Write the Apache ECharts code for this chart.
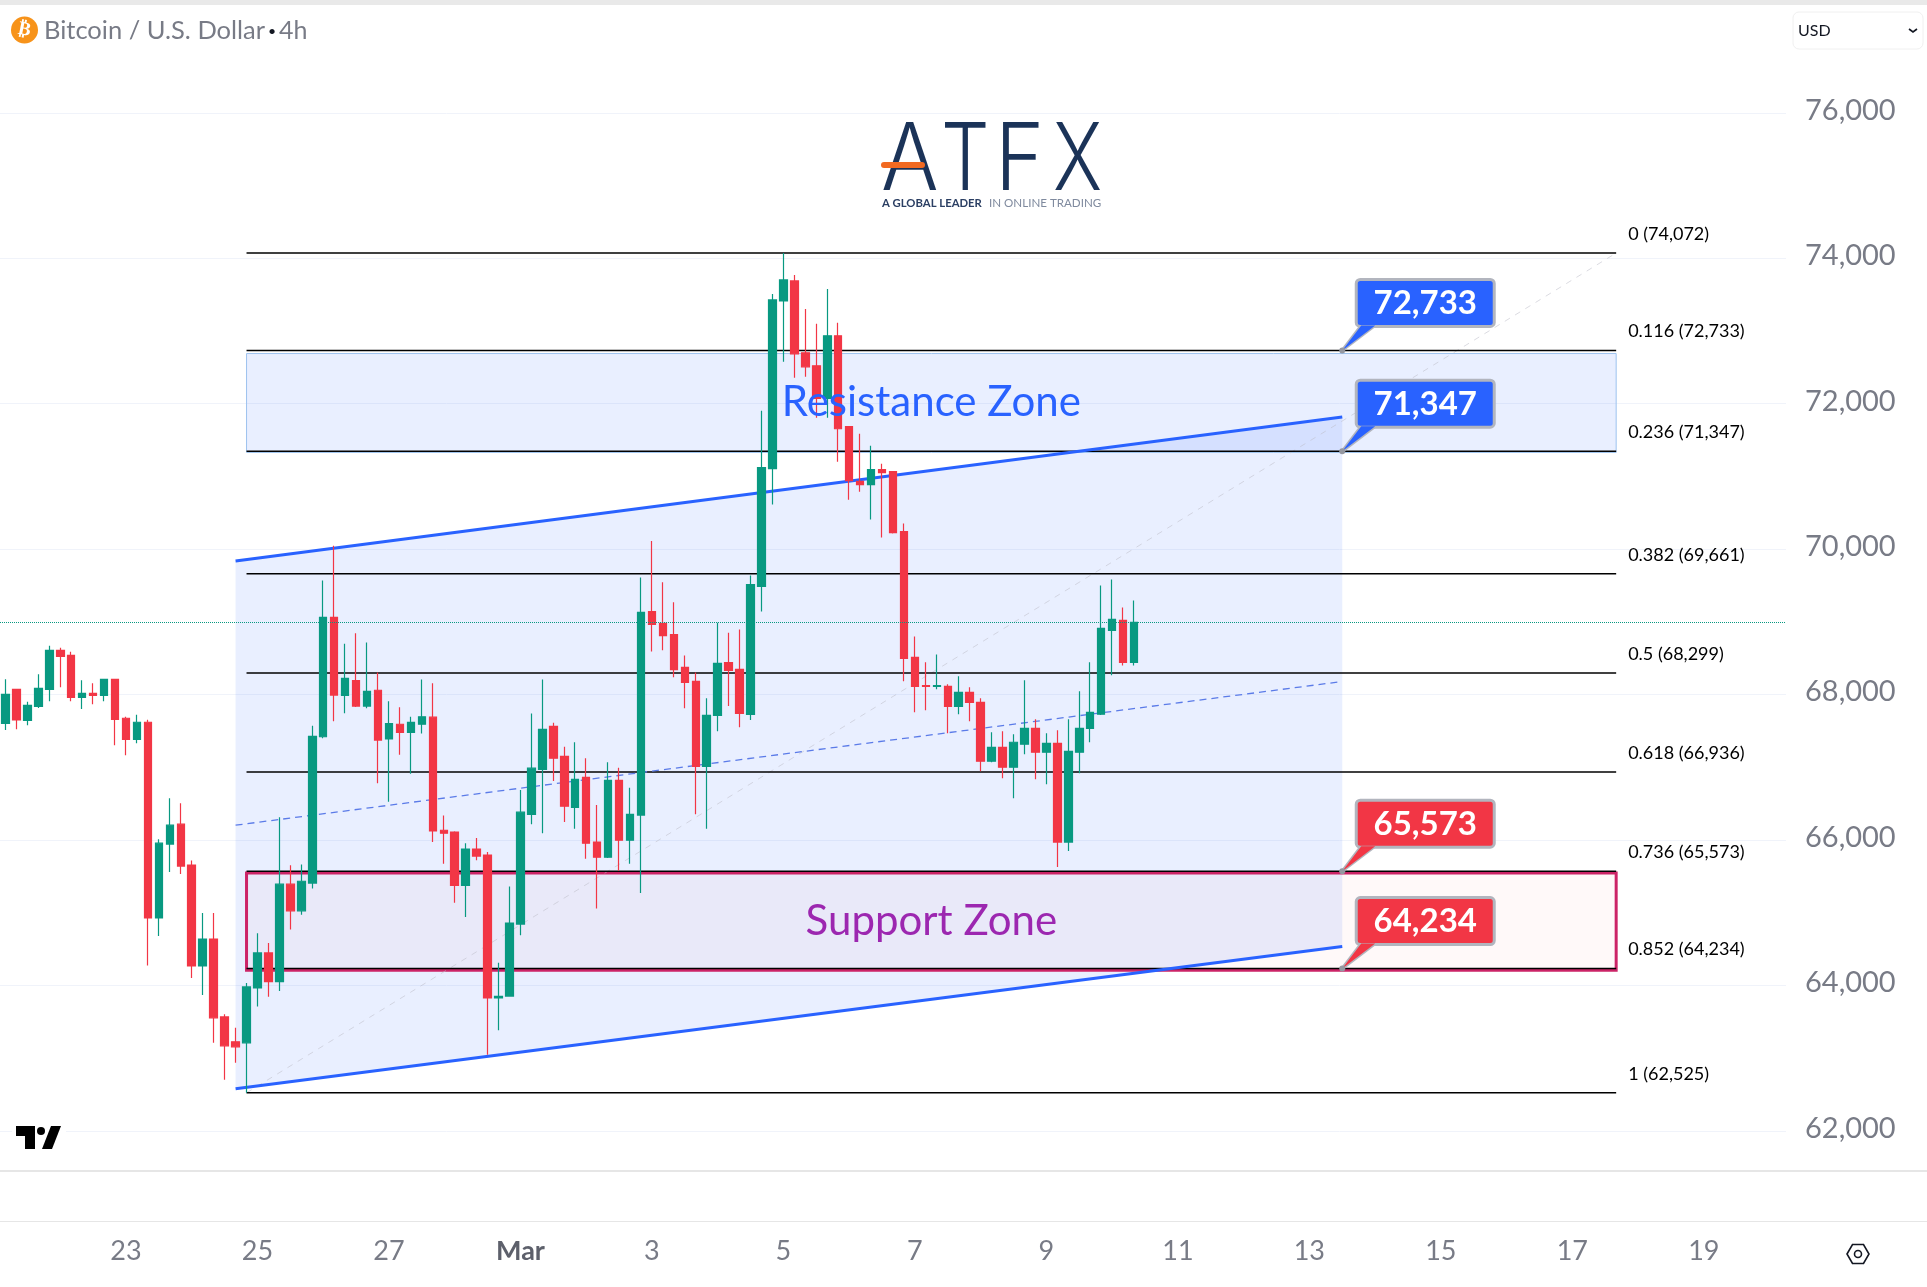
<!DOCTYPE html>
<html>
<head>
<meta charset="utf-8">
<title>Bitcoin / U.S. Dollar 4h</title>
<script src="https://cdn.jsdelivr.net/npm/echarts@6/dist/echarts.min.js"></script>
<style>
html, body { margin: 0; padding: 0; background: #fff; }
#chart { width: 1927px; height: 1287px; }
</style>
</head>
<body>
<div id="chart"></div>
<script>
// 4h candles
var opens = [67606,68073,67647,67839,68073,68608,68540,67963,68018,67990,68210,67675,67386,67620,64929,65945,66219,65656,64270,64640,63569,63226,63212,63966,64449,64053,65394,65028,65409,67421,69061,67989,68192,67842,68060,67390,67593,67481,67593,67690,66135,66110,65378,65876,65795,63829,63855,64845,66354,66973,67563,67151,66450,66862,65973,65765,66821,65998,66344,69142,68980,68827,68375,68182,67014,67715,68439,68347,67729,69487,71107,73414,73688,72700,72521,72073,72933,71684,70933,70887,71093,71066,70242,68512,68123,68114,68114,67839,68032,67894,67084,67276,67002,67318,67537,67208,67331,65972,67208,67537,67730,68883,69020,68444];
var closes = [68004,67652,67853,68087,68608,68526,67963,68018,67990,68210,67661,67386,67620,64929,65958,66205,65642,64270,64640,63556,63171,63157,63981,64449,64053,65394,65028,65434,67426,69061,67994,68223,67842,68045,67375,67603,67481,67619,67695,66125,66095,65378,65876,65780,63829,63850,64860,66384,66989,67522,67126,66465,66836,65957,65765,66821,65998,66354,69132,68965,68812,68345,68167,67014,67715,68431,68333,67743,69514,71121,73427,73702,72686,72507,72073,72933,71656,70942,70887,71093,71052,70228,68498,68114,68114,68123,67839,68032,67894,67084,67276,67002,67345,67537,67208,67331,65972,67221,67537,67757,68910,69034,68444,68993];
var lows = [67514,67524,67578,67816,67908,68100,67908,67803,67867,67908,67304,67167,67331,64274,64681,65560,65533,64105,63871,63212,62704,62938,62525,63712,63845,63926,64769,64972,65333,67400,67634,67745,67830,67811,66780,66526,67172,66913,67466,65973,65673,65140,64942,65724,63047,63387,63845,64693,66217,66095,66811,66247,66156,65744,65059,65754,65577,65673,65272,68594,68609,68238,67811,66354,66156,67497,67844,67550,67650,69144,70613,72576,72356,72370,71807,71807,71203,70681,70791,70407,70160,70214,68183,67757,67785,68073,67469,67730,67633,66947,67070,66851,66576,67180,66837,66768,65629,65849,66919,67345,67720,68265,68402,68402];
var highs = [68210,68073,67903,68279,68672,68645,68590,68196,68155,68219,68219,67697,67725,67656,66013,66576,66507,65720,64997,64997,63606,63418,64036,64718,64586,66313,65653,65663,67573,69569,70047,68700,68843,68716,68304,67908,67827,67695,68208,68157,66339,66120,65957,66029,65836,64312,65363,66689,67741,68208,67613,67283,67344,67126,66481,67070,66994,66719,69610,70113,69544,69270,68538,68304,67949,68990,68851,68896,69638,71903,73510,74072,73771,73304,73098,73578,73112,71684,71587,71423,71175,71066,70352,68800,68444,68553,68141,68251,68100,67949,67482,67495,67455,68196,67661,67469,67510,67661,68045,68444,69501,69583,69199,69295];

var lastPrice = 68993;
var tickLabels = ['23','25','27','Mar','3','5','7','9','11','13','15','17','19'];
var firstTickIndex = 11;
var ticksEvery = 12;
var barSlots = 163;

// fib tool
var fibRatios = ['0','0.116','0.236','0.382','0.5','0.618','0.736','0.852','1'];
var fibLevels = [74072,72733,71347,69661,68299,66936,65573,64234,62525];
var fibStart = 22;
var fibEnd = 147;

// parallel channel, bar index -> price
var channelStart = 21;
var channelEnd = 122;
var channelUpper = [69836,71817];
var channelMiddle = [66205,68180];
var channelLower = [62581,64536];

var resistanceZone = [71330,72690];
var supportZone = [64209,65548];

var callouts = [
    {value: 72733, color: '#2962ff'},
    {value: 71347, color: '#2962ff'},
    {value: 65573, color: '#f23645'},
    {value: 64234, color: '#f23645'}
];

var FONT = 'Lato, "Open Sans", sans-serif';
var axisGray = '#787b86';
var logoNavy = '#1b3358';

var categories = [];
for (var i = 0; i < barSlots; i++) {
    categories.push(new Date(Date.UTC(2026, 1, 21, 4 + i * 4)).toISOString().slice(0, 16));
}

var candleData = opens.map(function (o, i) {
    return [o, closes[i], lows[i], highs[i]];
});

function fmt(v) {
    return String(v).replace(/\B(?=(\d{3})+$)/g, ',');
}

function segment(api, i0, v0, i1, v1, style) {
    var a = api.coord([i0, v0]);
    var b = api.coord([i1, v1]);
    return {type: 'line', shape: {x1: a[0], y1: a[1], x2: b[0], y2: b[1]}, style: style};
}

function zoneRect(api, zone, style) {
    var a = api.coord([fibStart, zone[1]]);
    var b = api.coord([fibEnd, zone[0]]);
    return {type: 'rect', shape: {x: a[0], y: a[1], width: b[0] - a[0], height: b[1] - a[1]}, style: style};
}

// everything that sits under the candles
function renderUnder(params, api) {
    var kids = [];
    var p0 = api.coord([channelStart, channelUpper[0]]);
    var p1 = api.coord([channelEnd, channelUpper[1]]);
    var p2 = api.coord([channelEnd, channelLower[1]]);
    var p3 = api.coord([channelStart, channelLower[0]]);
    kids.push({type: 'polygon', shape: {points: [p0, p1, p2, p3]}, style: {fill: 'rgba(41,98,255,0.1)'}});
    kids.push(zoneRect(api, resistanceZone, {fill: 'rgba(41,98,255,0.1)', stroke: '#9dc3ef', lineWidth: 1}));
    kids.push(zoneRect(api, supportZone, {fill: 'rgba(242,54,69,0.03)', stroke: '#cc2467', lineWidth: 3}));
    kids.push(segment(api, fibStart, fibLevels[8], fibEnd, fibLevels[0], {stroke: 'rgba(190,190,200,0.55)', lineWidth: 1, lineDash: [6, 6]}));
    fibLevels.forEach(function (level) {
        kids.push(segment(api, fibStart, level, fibEnd, level, {stroke: '#000', lineWidth: 1.5}));
    });
    kids.push(segment(api, channelStart, channelMiddle[0], channelEnd, channelMiddle[1], {stroke: '#5b7be8', lineWidth: 1.3, lineDash: [7, 5]}));
    kids.push(segment(api, channelStart, channelUpper[0], channelEnd, channelUpper[1], {stroke: '#2962ff', lineWidth: 3}));
    kids.push(segment(api, channelStart, channelLower[0], channelEnd, channelLower[1], {stroke: '#2962ff', lineWidth: 3}));
    return {type: 'group', children: kids};
}

function zoneText(api, text, zone, color) {
    var a = api.coord([fibStart, (zone[0] + zone[1]) / 2]);
    var b = api.coord([fibEnd, (zone[0] + zone[1]) / 2]);
    return {type: 'text', style: {text: text, x: (a[0] + b[0]) / 2, y: a[1] + 2, fill: color, font: '42px ' + FONT, align: 'center', verticalAlign: 'middle'}};
}

// labels and callouts, on top of the candles
function renderOver(params, api) {
    var kids = [];
    fibLevels.forEach(function (level, k) {
        var p = api.coord([fibEnd, level]);
        kids.push({type: 'text', style: {text: fibRatios[k] + ' (' + fmt(level) + ')', x: p[0] + 12, y: p[1] - 19, fill: '#000', font: '18px ' + FONT, align: 'left', verticalAlign: 'middle'}});
    });
    kids.push(zoneText(api, 'Resistance Zone', [71347, 72733], '#2962ff'));
    kids.push(zoneText(api, 'Support Zone', [64234, 65573], '#9c27b0'));
    callouts.forEach(function (c) {
        var p = api.coord([channelEnd, c.value]);
        var x = p[0] + 14;
        var y = p[1] - 71;
        var tail = [[p[0], p[1]], [x + 5, y + 46], [x + 19, y + 46]];
        kids.push({type: 'polygon', shape: {points: tail}, style: {fill: '#b2b5be', stroke: '#b2b5be', lineWidth: 3, lineJoin: 'round'}});
        kids.push({type: 'rect', shape: {x: x, y: y, width: 138, height: 47, r: 4}, style: {fill: c.color, stroke: '#b2b5be', lineWidth: 3}});
        kids.push({type: 'polygon', shape: {points: tail}, style: {fill: c.color}});
        kids.push({type: 'circle', shape: {cx: p[0], cy: p[1], r: 3}, style: {fill: '#9598a1'}});
        kids.push({type: 'text', style: {text: fmt(c.value), x: x + 69, y: y + 24, fill: '#fff', font: 'bold 33px ' + FONT, align: 'center', verticalAlign: 'middle'}});
    });
    return {type: 'group', children: kids};
}

function logoLetter(text, x, stretch) {
    return {type: 'text', z: 5, x: x, y: 162, scaleX: stretch, style: {text: text, x: 0, y: 0, fill: logoNavy, font: '300 93px Inter', verticalAlign: 'middle'}};
}

var chart = echarts.init(document.getElementById('chart'));

var option = {
    animation: false,
    backgroundColor: '#fff',
    grid: {left: 0, right: 141, top: 112.8, bottom: 156},
    xAxis: {
        type: 'category',
        data: categories,
        boundaryGap: true,
        axisLine: {show: false},
        axisTick: {show: false},
        splitLine: {show: false},
        axisLabel: {
            margin: 107,
            color: axisGray,
            fontSize: 27,
            fontFamily: FONT,
            interval: function (index) {
                return index >= firstTickIndex && (index - firstTickIndex) % ticksEvery === 0;
            },
            formatter: function (value, index) {
                var label = tickLabels[(index - firstTickIndex) / ticksEvery];
                return label === 'Mar' ? '{bold|Mar}' : label;
            },
            rich: {bold: {fontWeight: 'bold', color: '#5d606b', fontSize: 27, fontFamily: FONT}}
        }
    },
    yAxis: {
        type: 'value',
        position: 'right',
        min: 62000,
        max: 76000,
        interval: 2000,
        scale: true,
        axisLine: {show: false},
        axisTick: {show: false},
        splitLine: {lineStyle: {color: '#f0f3fa', width: 1}},
        axisLabel: {
            margin: 19,
            color: axisGray,
            fontSize: 29,
            fontFamily: FONT,
            verticalAlign: 'bottom',
            lineHeight: 5,
            formatter: function (v) { return fmt(v); }
        }
    },
    series: [
        {type: 'custom', z: 1, silent: true, data: [[0, 62000]], renderItem: renderUnder},
        {
            type: 'candlestick',
            z: 2,
            data: candleData,
            barWidth: 8,
            itemStyle: {color: '#089981', color0: '#f23645', borderColor: '#089981', borderColor0: '#f23645', borderWidth: 1.2},
            markLine: {
                silent: true,
                symbol: 'none',
                label: {show: false},
                lineStyle: {color: '#089981', type: 'dotted', width: 1},
                data: [{yAxis: lastPrice}]
            }
        },
        {type: 'custom', z: 3, silent: true, data: [[0, 62000]], renderItem: renderOver}
    ],
    graphic: [
        // page furniture
        {type: 'rect', z: 10, shape: {x: 0, y: 0, width: 1927, height: 5}, style: {fill: '#e9e9e9'}},
        {type: 'rect', z: 10, shape: {x: 0, y: 1170, width: 1927, height: 2}, style: {fill: '#e6e6e6'}},
        {type: 'rect', z: 10, shape: {x: 0, y: 1221, width: 1927, height: 1}, style: {fill: '#e6e6e6'}},
        // header
        {type: 'circle', z: 10, shape: {cx: 24.5, cy: 30, r: 13.5}, style: {fill: '#f7931a'}},
        {type: 'text', z: 11, x: 24.5, y: 30, rotation: -0.2, style: {text: '\u20bf', x: 0, y: 0, fill: '#fff', font: 'bold 19px "DejaVu Sans"', align: 'center', verticalAlign: 'middle'}},
        {type: 'text', z: 10, style: {text: 'Bitcoin / U.S. Dollar', x: 44, y: 31, fill: axisGray, font: '25.5px ' + FONT, verticalAlign: 'middle'}},
        {type: 'text', z: 10, style: {text: '\u2022', x: 268, y: 31, fill: '#131722', font: '14px ' + FONT, verticalAlign: 'middle'}},
        {type: 'text', z: 10, style: {text: '4h', x: 279, y: 31, fill: axisGray, font: '25px ' + FONT, verticalAlign: 'middle'}},
        // currency button
        {type: 'rect', z: 10, shape: {x: 1793, y: 12, width: 130, height: 37, r: 6}, style: {fill: '#fff', stroke: '#f0f0f0', lineWidth: 1}},
        {type: 'text', z: 11, style: {text: 'USD', x: 1798, y: 31, fill: '#131722', font: '16px ' + FONT, verticalAlign: 'middle'}},
        {type: 'polyline', z: 11, shape: {points: [[1909, 29], [1913, 32], [1917, 29]]}, style: {stroke: '#131722', lineWidth: 1.6, fill: null}},
        // ATFX logo
        logoLetter('A', 881, 0.92),
        logoLetter('T', 941, 0.82),
        logoLetter('F', 995, 0.9),
        logoLetter('X', 1053, 0.8),
        {type: 'rect', z: 6, shape: {x: 881, y: 162, width: 44, height: 6, r: 3}, style: {fill: '#f26a21'}},
        {type: 'text', z: 5, style: {text: 'A GLOBAL LEADER', x: 882, y: 203, fill: '#2b3f63', font: 'bold 11.3px ' + FONT, verticalAlign: 'middle'}},
        {type: 'text', z: 5, style: {text: 'IN ONLINE TRADING', x: 989, y: 203, fill: '#7f8a9e', font: '11.6px ' + FONT, verticalAlign: 'middle'}},
        // TradingView mark
        {type: 'rect', z: 10, shape: {x: 12, y: 1120, width: 54, height: 30}, style: {fill: '#fff'}},
        {type: 'polygon', z: 11, shape: {points: [[16, 1126], [35, 1126], [35, 1149], [25, 1149], [25, 1136], [16, 1136]]}, style: {fill: '#000'}},
        {type: 'circle', z: 11, shape: {cx: 41, cy: 1131, r: 4}, style: {fill: '#000'}},
        {type: 'polygon', z: 11, shape: {points: [[51, 1126], [61, 1126], [52, 1149], [42, 1149]]}, style: {fill: '#000'}},
        // settings icon
        {type: 'polygon', z: 10, shape: {points: [[1847, 1254], [1852.5, 1244.5], [1863.5, 1244.5], [1869, 1254], [1863.5, 1263.5], [1852.5, 1263.5]]}, style: {fill: 'none', stroke: '#131722', lineWidth: 1.6}},
        {type: 'circle', z: 10, shape: {cx: 1858, cy: 1254, r: 3.5}, style: {fill: 'none', stroke: '#131722', lineWidth: 1.6}}
    ]
};

chart.setOption(option);
</script>
</body>
</html>
